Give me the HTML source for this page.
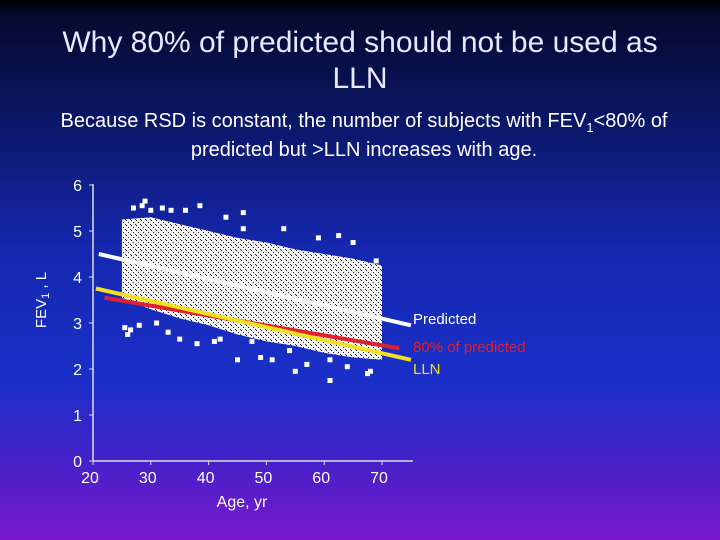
<!DOCTYPE html>
<html><head><meta charset="utf-8"><style>
html,body{margin:0;padding:0}
body{width:720px;height:540px;overflow:hidden;font-family:"Liberation Sans","DejaVu Sans",sans-serif;
background:linear-gradient(180deg,#000 0px,#050a30 16px,#0a1560 110px,#1528b0 250px,#1a2fc8 380px,#4a20c8 470px,#7a18d0 540px);position:relative;color:#fff}
.t{position:absolute;left:0;width:720px;text-align:center}
sub{line-height:0}
</style></head><body>
<div class="t" style="top:25px;font-size:30px;line-height:36px;color:#e8e8ff">Why 80% of predicted should not be used as<br>LLN</div>
<div class="t" style="top:107px;font-size:20px;line-height:29px;left:4px">Because RSD is constant, the number of subjects with FEV<sub style="font-size:13px">1</sub>&lt;80% of<br>predicted but &gt;LLN increases with age.</div>
<svg id="c" width="720" height="540" style="position:absolute;left:0;top:0">
<defs><pattern id="spk" width="5" height="5" patternUnits="userSpaceOnUse"><rect width="5" height="5" fill="#f2f2f2"/><rect x="1" y="0" width="1" height="1" fill="#000"/><rect x="3" y="2" width="1" height="1" fill="#222"/><rect x="0" y="4" width="1" height="1" fill="#333"/></pattern></defs>
</svg>
<script>
const bandAges=[25,30,35,40,45,50,55,60,65,70];
const bandTop=[5.25,5.3,5.15,5.0,4.85,4.75,4.6,4.5,4.4,4.25];
const bandBottom=[3.55,3.3,3.1,2.95,2.75,2.6,2.5,2.35,2.25,2.2];
const outlierAges=[25.5,26,26.5,27,28,28.5,29,30,32,33,33.5,35,38,38.5,41,42,45,46,47.5,53,55,57,59,61,62.5,64,65,67.5,68,69,61,54,51,46,49,36,31,43];
const outlierVals=[2.9,2.75,2.85,5.5,2.95,5.55,5.65,5.45,5.5,2.8,5.45,2.65,2.55,5.55,2.6,2.65,2.2,5.4,2.6,5.05,1.95,2.1,4.85,1.75,4.9,2.05,4.75,1.9,1.95,4.35,2.2,2.4,2.2,5.05,2.25,5.45,3.0,5.3];
const lineNames=["predicted-line","80-percent-line","lln-line"];
const lineColors=["#ffffff","#e02030","#f0e020"];
const lineX1=[21,22,20.5], lineY1=[4.5,3.55,3.75], lineX2=[75,73,75], lineY2=[2.95,2.45,2.2];
const xTicks=[20,30,40,50,60,70], yTicks=[0,1,2,3,4,5,6];
const X=a=>93+(a-20)*5.78, Y=v=>461-v*46;
const svg=document.getElementById('c'),NS='http://www.w3.org/2000/svg';
function mk(t,at,p){const e=document.createElementNS(NS,t);for(const k in at)e.setAttribute(k,at[k]);(p||svg).appendChild(e);return e;}
let pts=bandAges.map((a,i)=>X(a)+','+Y(bandTop[i]));
for(let i=bandAges.length-1;i>=0;i--)pts.push(X(bandAges[i])+','+Y(bandBottom[i]));
const band=mk('polygon',{points:pts.join(' '),fill:'url(#spk)'});


outlierAges.forEach((a,i)=>{const d=mk('rect',{x:X(a)-2.5,y:Y(outlierVals[i])-2.5,width:5,height:5,fill:'#fff'});

});
lineNames.forEach((n,i)=>{const l=mk('line',{x1:X(lineX1[i]),y1:Y(lineY1[i]),x2:X(lineX2[i]),y2:Y(lineY2[i]),stroke:lineColors[i],'stroke-width':4});

});
const ya=mk('line',{x1:93,y1:184,x2:93,y2:461,stroke:'#ddd','stroke-width':1.5});


const xa=mk('line',{x1:93,y1:461,x2:413,y2:461,stroke:'#ddd','stroke-width':1.5});


yTicks.forEach(v=>{mk('line',{x1:89,y1:Y(v),x2:93,y2:Y(v),stroke:'#ddd'});
const t=mk('text',{x:82,y:Y(v)+6,'text-anchor':'end','font-size':16,fill:'#fff'});t.textContent=v;

});
xTicks.forEach(v=>{mk('line',{x1:X(v),y1:461,x2:X(v),y2:465,stroke:'#ddd'});
const t=mk('text',{x:X(v)-3,y:483,'text-anchor':'middle','font-size':16,fill:'#fff'});t.textContent=v;

});
const xt=mk('text',{x:242,y:507,'text-anchor':'middle','font-size':16,fill:'#fff'});xt.textContent='Age, yr';


const yt=mk('text',{x:0,y:0,'text-anchor':'middle','font-size':15,fill:'#fff',transform:'translate(46,300) rotate(-90)'});
yt.innerHTML='FEV<tspan font-size="11" dy="3">1</tspan><tspan dy="-3"> , L</tspan>';


const lg=[['Predicted','#fff',324],['80% of  predicted','#e02030',352],['LLN','#f0e020',374]];
lg.forEach(g=>{const t=mk('text',{x:413,y:g[2],'font-size':15,fill:g[1]});t.textContent=g[0];

});
</script>
</body></html>
